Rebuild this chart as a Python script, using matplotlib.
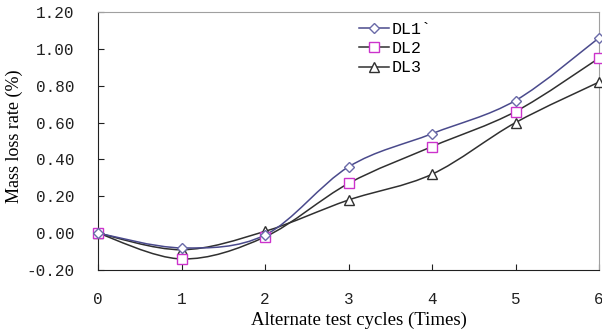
import numpy as np
import matplotlib
matplotlib.use("Agg")
import matplotlib.pyplot as plt
from matplotlib.path import Path
from matplotlib.patches import PathPatch
from matplotlib.lines import Line2D

# ── Data ──────────────────────────────────────────────────────────────────────
cycles = [0, 1, 2, 3, 4, 5, 6]
dl1 = [0.00, -0.08, -0.01, 0.36, 0.54, 0.72, 1.06]
dl2 = [0.00, -0.14, -0.02, 0.27, 0.47, 0.66, 0.95]
dl3 = [0.00, -0.09, 0.01, 0.18, 0.32, 0.60, 0.82]
labels = ["DL1`", "DL2", "DL3"]


def smooth_path(x, y):
    # Excel-style smoothed line: cubic Bezier segments through every point
    x = np.asarray(x, float)
    y = np.asarray(y, float)
    n = len(x)
    verts = [(x[0], y[0])]
    codes = [Path.MOVETO]
    for i in range(n - 1):
        i0 = max(i - 1, 0)
        i3 = min(i + 2, n - 1)
        c1 = (x[i] + (x[i + 1] - x[i0]) / 6, y[i] + (y[i + 1] - y[i0]) / 6)
        c2 = (x[i + 1] - (x[i3] - x[i]) / 6, y[i + 1] - (y[i3] - y[i]) / 6)
        verts += [c1, c2, (x[i + 1], y[i + 1])]
        codes += [Path.CURVE4] * 3
    return Path(verts, codes)


serif = "Liberation Serif"
mono = "Liberation Mono"

fig = plt.figure(figsize=(6.02, 3.35), dpi=100)
ax = fig.add_axes([0.163, 0.194, 0.832, 0.770])

series = [
    (dl3, "#303030", "^", "#303030", 6.5),
    (dl2, "#303030", "s", "#cc33cc", 6.5),
    (dl1, "#4a4a8c", "D", "#6a6aa8", 5),
]
for vals, lc, mk, mc, ms in series:
    ax.add_patch(PathPatch(smooth_path(cycles, vals), fill=False,
                           edgecolor=lc, lw=1.1, zorder=2))
    ax.plot(cycles, vals, ls="none", marker=mk, ms=ms, mfc="white",
            mec=mc, mew=1.0, zorder=3, clip_on=False)

ax.set_xlim(0, 6)
ax.set_ylim(-0.2, 1.2)
ax.set_xticks(cycles)
ax.set_yticks(np.arange(-0.2, 1.21, 0.2))
ax.set_yticklabels(["%.2f" % v for v in np.arange(-0.2, 1.21, 0.2)])
ax.tick_params(direction="in", length=4, width=0.8, colors="#202020")
ax.tick_params(axis="y", pad=17)
ax.tick_params(axis="x", pad=16)
for lab in ax.get_xticklabels() + ax.get_yticklabels():
    lab.set_fontfamily(mono)
    lab.set_fontsize(11.5)

ax.spines["left"].set_color("#202020")
ax.spines["bottom"].set_color("#202020")
ax.spines["top"].set_color("#a0a0a0")
ax.spines["right"].set_color("#a0a0a0")

ax.set_xlabel("Alternate test cycles (Times)", fontfamily=serif, fontsize=13.5)
ax.xaxis.set_label_coords(0.52, -0.16)
ax.set_ylabel("Mass loss rate (%)", fontfamily=serif, fontsize=13)
ax.yaxis.set_label_coords(-0.15, 0.52)

handles = [
    Line2D([], [], color="#4a4a8c", lw=1.1, marker="D", ms=5, mfc="white", mec="#6a6aa8"),
    Line2D([], [], color="#303030", lw=1.1, marker="s", ms=6.5, mfc="white", mec="#cc33cc"),
    Line2D([], [], color="#303030", lw=1.1, marker="^", ms=6.5, mfc="white", mec="#303030"),
]
ax.legend(handles, labels, loc="upper left", bbox_to_anchor=(0.5, 1.0),
          frameon=False, prop={"family": mono, "size": 12},
          handlelength=1.8, handletextpad=0.2, labelspacing=0.25,
          borderaxespad=0.2)

fig.savefig("out.png", dpi=100)
